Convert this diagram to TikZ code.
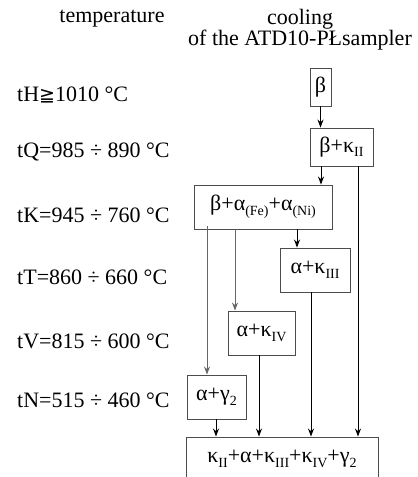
\documentclass[tikz,border=0pt]{standalone}
\usepackage{fontspec}
\newfontfamily\tnr{Liberation Serif}
\newfontfamily\symfnt{DejaVu Sans}
\usetikzlibrary{arrows.meta}
\newcommand{\phtxt}{\tnr\fontsize{22}{23}\selectfont}
\newcommand{\idx}[1]{\raisebox{-0.45ex}{\tnr\fontsize{14}{14}\selectfont #1}}

\begin{document}
\begin{tikzpicture}[x=1pt,y=-1pt,>={Stealth[length=8pt,width=6pt]},
  phase/.style={draw=black!70,line width=0.9pt,inner sep=0pt},
  temp/.style={anchor=west,inner sep=0pt},
  head/.style={inner sep=0pt,align=center},
  flow/.style={->,line width=0.9pt},
  flowgray/.style={->,line width=0.9pt,black!60}]
  \useasboundingbox (0,0) rectangle (418,477);
  % column headings
  \node[head] (htemp) at (112,19) {\phtxt temperature};
  \node[head] (hcool) at (300,30) {\phtxt cooling\\\phtxt of the ATD10-PŁsampler};
  % temperature levels
  \node[temp] (tH) at (17,95) {\phtxt tH{\symfnt\fontsize{19}{20}\selectfont ≧}1010 °C};
  \node[temp] (tQ) at (17,152) {\phtxt tQ=985 ÷ 890 °C};
  \node[temp] (tK) at (17,215) {\phtxt tK=945 ÷ 760 °C};
  \node[temp] (tT) at (17,277) {\phtxt tT=860 ÷ 660 °C};
  \node[temp] (tV) at (17,341) {\phtxt tV=815 ÷ 600 °C};
  \node[temp] (tN) at (17,400) {\phtxt tN=515 ÷ 460 °C};
  % phases
  \node[phase,minimum width=21pt,minimum height=38pt] (b) at (320.5,87) {\phtxt β};
  \node[phase,minimum width=63pt,minimum height=38pt] (bk) at (341.5,147) {\phtxt β+κ\idx{II}};
  \node[phase,minimum width=138pt,minimum height=44pt] (baa) at (263,207) {\phtxt β+α\idx{(Fe)}+α\idx{(Ni)}};
  \node[phase,minimum width=70pt,minimum height=44pt] (ak3) at (315,270) {\phtxt α+κ\idx{III}};
  \node[phase,minimum width=67pt,minimum height=44pt] (ak4) at (261.5,333) {\phtxt α+κ\idx{IV}};
  \node[phase,minimum width=59pt,minimum height=44pt] (ag) at (216.5,397) {\phtxt α+γ\idx{2}};
  \node[phase,minimum width=192pt,minimum height=44pt] (fin) at (282,459) {\phtxt κ\idx{II}+α+κ\idx{III}+κ\idx{IV}+γ\idx{2}};
  % cooling paths
  \draw[flow] (b.south) -- (bk.north -| b.south);
  \draw[flow] ([xshift=-20.5pt]bk.south) -- ([xshift=-20.5pt]bk.south |- baa.north);
  \draw[flow] ([xshift=16.5pt]bk.south) -- ([xshift=16.5pt]bk.south |- fin.north);
  \draw[flow] ([xshift=34pt]baa.south) -- ([xshift=34pt]baa.south |- ak3.north);
  \draw[flowgray] ([xshift=-28pt]baa.south) -- ([xshift=-28pt]baa.south |- ak4.north);
  \draw[flowgray] ([xshift=-56pt,yshift=3pt]baa.south) -- ([xshift=-56pt]baa.south |- ag.north);
  \draw[flow] ([xshift=-4pt]ak3.south) -- ([xshift=-4pt]ak3.south |- fin.north);
  \draw[flow] ([xshift=-2.5pt]ak4.south) -- ([xshift=-2.5pt]ak4.south |- fin.north);
  \draw[flow] ([xshift=-0.5pt]ag.south) -- ([xshift=-0.5pt]ag.south |- fin.north);
\end{tikzpicture}
\end{document}
